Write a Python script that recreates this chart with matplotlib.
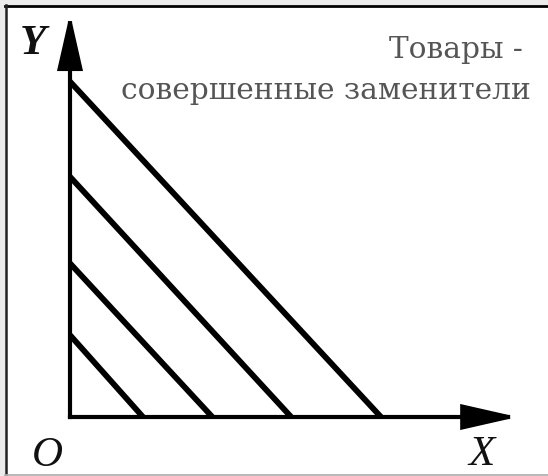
import matplotlib
matplotlib.use("Agg")
import matplotlib.pyplot as plt
from matplotlib.patches import Rectangle, FancyArrowPatch
from matplotlib.lines import Line2D

# Data: intercepts of the perfect-substitute indifference lines (x-intercept, y-intercept)
x_intercepts = [1.0, 1.95, 3.03, 4.26]
y_intercepts = [1.05, 1.97, 3.08, 4.30]
axis_x_len = 6.13
axis_y_len = 5.17
title_lines = ["Товары -", "совершенные заменители"]
axis_labels = {"y": "Y", "x": "X", "o": "O"}

W, H = 548, 476
fig = plt.figure(figsize=(W / 100, H / 100), dpi=100)
fig.patch.set_facecolor("#ebebeb")

# white panel with black top/left frame
fig.patches.append(Rectangle((6 / W, 2 / H), (W - 6) / W, (H - 8) / H,
                             transform=fig.transFigure, facecolor="white", edgecolor="none", zorder=0))
fig.lines.append(Line2D([5 / W, 1], [1 - 5.5 / H, 1 - 5.5 / H], transform=fig.transFigure,
                        color="black", lw=2.0))
fig.lines.append(Line2D([5.5 / W, 5.5 / W], [2 / H, 1 - 5 / H], transform=fig.transFigure,
                        color="#222222", lw=1.8))
fig.lines.append(Line2D([5 / W, 1], [1.2 / H, 1.2 / H], transform=fig.transFigure,
                        color="#b0b0b0", lw=1.2))

ax = fig.add_axes([0, 0, 1, 1])
ax.set_zorder(10)
ax.set_facecolor("none")
px_x, px_y = 73.0, 78.0
x0_px, y0_px = 70.0, H - 417.0
xmin = -x0_px / px_x
ymin = -y0_px / px_y
ax.set_xlim(xmin, xmin + W / px_x)
ax.set_ylim(ymin, ymin + H / px_y)
ax.axis("off")

# indifference lines
for xi, yi in zip(x_intercepts, y_intercepts):
    ax.plot([0, xi], [yi, 0], color="black", lw=4.2, solid_capstyle="butt", zorder=3)

# axes with arrows
style = "-|>,head_length=3.3,head_width=0.75"
for end in [(axis_x_len, 0), (0, axis_y_len)]:
    a = FancyArrowPatch((0, 0), end, arrowstyle=style, mutation_scale=10,
                        color="black", lw=3.0, shrinkA=0, shrinkB=0, zorder=4,
                        joinstyle="miter", capstyle="projecting")
    ax.add_patch(a)

# labels
ax.text(33 / W, 1 - 44 / H, axis_labels["y"], transform=ax.transAxes, ha="center", va="center",
        fontsize=31, fontweight="bold", fontstyle="italic", family="Liberation Serif", color="#111111")
ax.text(47 / W, 1 - 456 / H, axis_labels["o"], transform=ax.transAxes, ha="center", va="center",
        fontsize=31, fontstyle="italic", family="Liberation Serif", color="#111111")
ax.text(482 / W, 1 - 455 / H, axis_labels["x"], transform=ax.transAxes, ha="center", va="center",
        fontsize=31, fontstyle="italic", family="Liberation Serif", color="#111111")

# title
ax.text(523 / W, 1 - 58 / H, title_lines[0], transform=ax.transAxes, ha="right", va="baseline",
        fontsize=21.3, family="DejaVu Serif", color="#555555")
ax.text(531 / W, 1 - 99 / H, title_lines[1], transform=ax.transAxes, ha="right", va="baseline",
        fontsize=21.3, family="DejaVu Serif", color="#555555")

fig.savefig("out.png", dpi=100)
